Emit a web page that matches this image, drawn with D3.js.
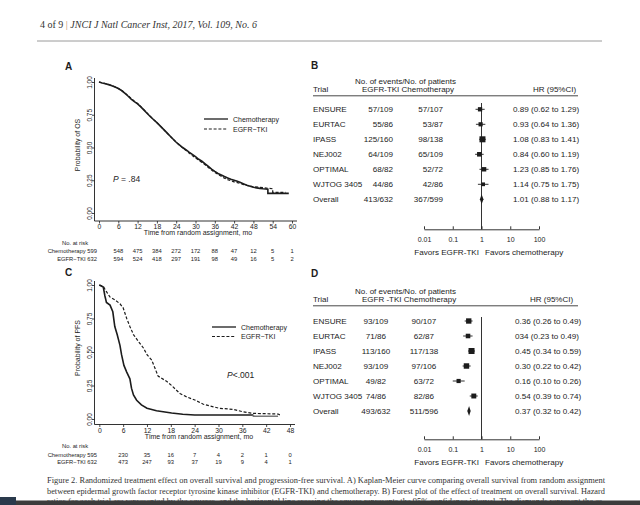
<!DOCTYPE html>
<html><head><meta charset="utf-8">
<script src="https://cdn.jsdelivr.net/npm/d3@7"></script>
<style>body{margin:0;background:#fff}svg{display:block}</style>
</head><body>
<svg id="c" width="640" height="505"></svg>
<script>
// ---------------- DATA ----------------
// Panel A: overall survival (time in months, survival probability)
const osChemo = [[0,1],[1,.993],[2,.987],[3,.98],[4,.972],[5,.962],[6,.95],[7,.935],[8,.915],[9,.893],[10,.87],[11,.85],[12,.833],[13,.81],[14,.785],[15,.76],[16,.735],[17,.712],[18,.69],[19,.665],[20,.64],[21,.615],[22,.59],[23,.565],[24,.54],[25,.52],[26,.5],[27,.483],[28,.465],[29,.448],[30,.43],[31,.41],[32,.395],[33,.375],[34,.355],[35,.335],[36,.318],[37,.302],[38,.29],[39,.278],[40,.268],[41,.258],[42,.25],[43,.242],[44,.232],[45,.222],[46,.212],[47,.205],[48,.197],[49,.192],[50,.188],[51,.185],[52.5,.182],[52.5,.15],[59,.15]];
const osEgfr = [[0,1],[1,.994],[2,.988],[3,.981],[4,.973],[5,.963],[6,.951],[7,.937],[8,.918],[9,.897],[10,.874],[11,.853],[12,.836],[13,.812],[14,.787],[15,.762],[16,.737],[17,.713],[18,.69],[19,.665],[20,.64],[21,.614],[22,.589],[23,.564],[24,.54],[25,.518],[26,.498],[27,.478],[28,.458],[29,.438],[30,.42],[31,.403],[32,.386],[33,.368],[34,.348],[35,.328],[36,.31],[37,.295],[38,.28],[39,.266],[40,.255],[41,.246],[42,.238],[43,.232],[44,.225],[45,.217],[46,.21],[47,.205],[48,.2],[50,.196],[52,.19],[54,.185],[54,.158],[58,.158]];
const osTicks = [0,6,12,18,24,30,36,42,48,54,60];
const osRiskChemo = [599,548,475,384,272,172,88,47,12,5,1];
const osRiskEgfr = [632,594,524,418,297,191,98,49,16,5,2];

// Panel C: progression-free survival
const pfsChemo = [[0,1],[1,.985],[1.4,.92],[1.8,.87],[2.7,.85],[3.4,.8],[3.9,.69],[4.5,.63],[5.2,.55],[5.6,.48],[6.2,.4],[6.9,.35],[7.7,.3],[8.1,.23],[8.6,.18],[9.4,.14],[10.6,.105],[12,.08],[14.4,.062],[18.2,.045],[21,.035],[24,.03],[38.8,.03]];
const pfsChemoTail = [[38.8,.03],[38.8,.02],[45,.02]];
const pfsEgfr = [[0,1],[1,.99],[1.8,.95],[2.7,.91],[3.9,.89],[5.2,.86],[6,.83],[6.9,.75],[7.7,.69],[8.6,.63],[9.8,.58],[11.1,.53],[12,.48],[13.2,.44],[14,.38],[14.8,.32],[17,.28],[18.2,.25],[20.3,.19],[22,.165],[24.2,.14],[26.2,.11],[30.2,.08],[33.7,.072],[36,.055],[38.8,.042],[45,.037],[45.5,.03]];
const pfsTicks = [0,6,12,18,24,30,36,42,48];
const pfsRiskChemo = [595,230,35,16,7,4,2,1,0];
const pfsRiskEgfr = [632,473,247,93,37,19,9,4,1];

const survTicks = [0,.25,.5,.75,1];

// Panels B and D: forest plots
const trials = ["ENSURE","EURTAC","IPASS","NEJ002","OPTIMAL","WJTOG 3405","Overall"];
const osEvEgfr = ["57/109","55/86","125/160","64/109","68/82","44/86","413/632"];
const osEvChemo = ["57/107","53/87","98/138","65/109","52/72","42/86","367/599"];
const osHR = [0.89,0.93,1.08,0.84,1.23,1.14,1.01];
const osLo = [0.62,0.64,0.83,0.60,0.85,0.75,0.88];
const osHi = [1.29,1.36,1.41,1.19,1.76,1.75,1.17];
const osHRText = ["0.89 (0.62 to 1.29)","0.93 (0.64 to 1.36)","1.08 (0.83 to 1.41)","0.84 (0.60 to 1.19)","1.23 (0.85 to 1.76)","1.14 (0.75 to 1.75)","1.01 (0.88 to 1.17)"];
const osEvents = [114,108,223,129,120,86];

const pfsEvEgfr = ["93/109","71/86","113/160","93/109","49/82","74/86","493/632"];
const pfsEvChemo = ["90/107","62/87","117/138","97/106","63/72","82/86","511/596"];
const pfsHR = [0.36,0.34,0.45,0.30,0.16,0.54,0.37];
const pfsLo = [0.26,0.23,0.34,0.22,0.10,0.39,0.32];
const pfsHi = [0.49,0.49,0.59,0.42,0.26,0.74,0.42];
const pfsHRText = ["0.36 (0.26 to 0.49)","034 (0.23 to 0.49)","0.45 (0.34 to 0.59)","0.30 (0.22 to 0.42)","0.16 (0.10 to 0.26)","0.54 (0.39 to 0.74)","0.37 (0.32 to 0.42)"];
const pfsEvents = [183,133,230,190,112,156];

const hrTicks = [0.01,0.1,1,10,100];

// ---------------- DRAWING ----------------
const svg = d3.select("#c");
const sans = '"Liberation Sans", Arial, Helvetica, sans-serif';
const serif = '"Liberation Serif", "DejaVu Serif", "Times New Roman", serif';
const ink = "#1c1c1c";

// header
const hdr = svg.append("text").attr("x",40).attr("y",28).attr("font-family",serif).attr("font-size",10).attr("fill","#333");
hdr.append("tspan").text("4 of 9");
hdr.append("tspan").attr("fill","#c08a5a").text("  |  ");
hdr.append("tspan").attr("font-style","italic").text("JNCI J Natl Cancer Inst, 2017, Vol. 109, No. 6");
svg.append("line").attr("x1",37).attr("x2",602).attr("y1",41).attr("y2",41).attr("stroke","#9a9a9a").attr("stroke-width",1);

function kmPanel(c){
  const g = svg.append("g").attr("font-family",sans).attr("fill",ink);
  const x = d3.scaleLinear().domain([0,c.tmax]).range([c.x0,c.x1]);
  const y = d3.scaleLinear().domain([0,1]).range([c.y0,c.y1]);
  g.append("text").attr("x",65).attr("y",c.letterY).attr("font-size",10).attr("font-weight","bold").text(c.letter);
  g.append("line").attr("x1",c.yAxisX).attr("x2",c.yAxisX).attr("y1",y(1)-4).attr("y2",c.axisY).attr("stroke",ink).attr("stroke-width",0.9);
  g.append("line").attr("x1",c.yAxisX).attr("x2",x(c.tmax)+5).attr("y1",c.axisY).attr("y2",c.axisY).attr("stroke",ink).attr("stroke-width",0.9);
  const xa = g.append("g").attr("transform",`translate(0,${c.axisY})`)
    .call(d3.axisBottom(x).tickValues(c.ticks).tickSize(2.5).tickPadding(1).tickSizeOuter(0));
  xa.select(".domain").remove();
  xa.selectAll("line").attr("stroke",ink).attr("stroke-width",0.8);
  xa.selectAll("text").attr("font-size",6.8).attr("font-family",sans).attr("fill",ink);
  const ya = g.append("g").attr("transform",`translate(${c.yAxisX},0)`)
    .call(d3.axisLeft(y).tickValues(survTicks).tickFormat(d3.format(".2f")).tickSize(2.5));
  ya.select(".domain").remove();
  ya.selectAll("line").attr("stroke",ink).attr("stroke-width",0.8);
  ya.selectAll("text").attr("font-size",6.5).attr("font-family",sans).attr("fill",ink)
    .attr("x",0).attr("y",-3).attr("dy",0).attr("text-anchor","middle").attr("transform","rotate(-90)");
  g.append("text").attr("x",c.titleX).attr("y",c.axisY+14).attr("font-size",7).attr("text-anchor","middle").text("Time from random assignment, mo");
  g.append("text").attr("transform",`translate(79.5,${c.ytitleY}) rotate(-90)`).attr("font-size",7).attr("text-anchor","middle").text(c.ytitle);
  const line = d3.line().x(d=>x(d[0])).y(d=>y(d[1]));
  g.append("path").datum(c.egfr).attr("d",line).attr("fill","none").attr("stroke",ink).attr("stroke-width",1.2).attr("stroke-dasharray","3,1.8");
  g.append("path").datum(c.chemo).attr("d",line).attr("fill","none").attr("stroke",ink).attr("stroke-width",1.6);
  if (c.tail) g.append("path").datum(c.tail).attr("d",line).attr("fill","none").attr("stroke","#777").attr("stroke-width",1.6);
  const L = c.legend;
  g.append("line").attr("x1",L.x).attr("x2",L.x+24).attr("y1",L.y).attr("y2",L.y).attr("stroke",ink).attr("stroke-width",1.3);
  g.append("line").attr("x1",L.x).attr("x2",L.x+24).attr("y1",L.y+L.dy).attr("y2",L.y+L.dy).attr("stroke",ink).attr("stroke-width",1.1).attr("stroke-dasharray","3,1.8");
  g.append("text").attr("x",L.x+29).attr("y",L.y+2.5).attr("font-size",7).text("Chemotherapy");
  g.append("text").attr("x",L.x+29).attr("y",L.y+L.dy+2.5).attr("font-size",7).text("EGFR\u2212TKI");
  const p = g.append("text").attr("x",c.p.x).attr("y",c.p.y).attr("font-size",8.5);
  p.append("tspan").attr("font-style","italic").text("P");
  p.append("tspan").text(c.p.text);
  const r0 = c.axisY + 23.5;
  g.append("text").attr("x",62).attr("y",r0).attr("font-size",5.8).text("No. at risk");
  g.append("text").attr("x",97).attr("y",r0+8.5).attr("font-size",5.8).attr("text-anchor","end").text("Chemotherapy "+c.riskChemo[0]);
  g.append("text").attr("x",97).attr("y",r0+16).attr("font-size",5.8).attr("text-anchor","end").text("EGFR\u2212TKI "+c.riskEgfr[0]);
  g.selectAll(null).data(c.riskChemo.slice(1)).enter().append("text")
    .attr("x",(d,i)=>x(c.ticks[i+1])).attr("y",r0+8.5).attr("font-size",5.8).attr("text-anchor","middle").text(d=>d);
  g.selectAll(null).data(c.riskEgfr.slice(1)).enter().append("text")
    .attr("x",(d,i)=>x(c.ticks[i+1])).attr("y",r0+16).attr("font-size",5.8).attr("text-anchor","middle").text(d=>d);
}

kmPanel({letter:"A",letterY:70,tmax:60,x0:99,x1:292,y0:213,y1:82,yAxisX:94.5,axisY:221,ticks:osTicks,
  titleX:198,ytitleY:145,ytitle:"Probability of OS",chemo:osChemo,egfr:osEgfr,
  legend:{x:204,y:119,dy:10},p:{x:113,y:182,text:" = .84"},riskChemo:osRiskChemo,riskEgfr:osRiskEgfr});
kmPanel({letter:"C",letterY:276,tmax:48,x0:99.3,x1:290,y0:419,y1:285,yAxisX:94.5,axisY:424.5,ticks:pfsTicks,
  titleX:199,ytitleY:348,ytitle:"Probability of PFS",chemo:pfsChemo,tail:pfsChemoTail,egfr:pfsEgfr,
  legend:{x:212,y:327,dy:9.5},p:{x:227,y:378,text:"<.001"},riskChemo:pfsRiskChemo,riskEgfr:pfsRiskEgfr});

function forest(c){
  const g = svg.append("g").attr("font-family",sans).attr("fill",ink);
  const x = d3.scaleLog().domain([0.01,100]).range([424,539]);
  const yr = d3.scalePoint().domain(trials).range([c.row0,c.row0+90]);
  const sz = d3.scaleSqrt().domain([0,d3.max(c.events)]).range([0,6]);
  const fs = 8.1;
  g.append("text").attr("x",311).attr("y",c.letterY).attr("font-size",10).attr("font-weight","bold").text(c.letter);
  g.append("text").attr("x",355).attr("y",c.head0).attr("font-size",8).text("No. of events/No. of patients");
  g.append("text").attr("x",313).attr("y",c.head0+8).attr("font-size",8).text("Trial");
  g.append("text").attr("x",362).attr("y",c.head0+8).attr("font-size",8).text(c.colHead);
  g.append("text").attr("x",c.hrHeadX).attr("y",c.head0+8).attr("font-size",8).text("HR (95%CI)");
  g.append("line").attr("x1",313).attr("x2",578).attr("y1",c.head0+12.3).attr("y2",c.head0+12.3).attr("stroke","#333").attr("stroke-width",0.9);
  g.selectAll(null).data(trials).enter().append("text").attr("x",313).attr("y",d=>yr(d)+3).attr("font-size",fs).text(d=>d);
  g.selectAll(null).data(c.evE).enter().append("text").attr("x",c.colE.x).attr("text-anchor",c.colE.a)
    .attr("y",(d,i)=>yr(trials[i])+3).attr("font-size",fs).text(d=>d);
  g.selectAll(null).data(c.evC).enter().append("text").attr("x",c.colC.x).attr("text-anchor",c.colC.a)
    .attr("y",(d,i)=>yr(trials[i])+3).attr("font-size",fs).text(d=>d);
  g.selectAll(null).data(c.hrText).enter().append("text").attr("x",c.hrX)
    .attr("y",(d,i)=>yr(trials[i])+3).attr("font-size",fs).text(d=>d);
  g.append("line").attr("x1",x(1)).attr("x2",x(1)).attr("y1",c.vTop).attr("y2",c.axisY).attr("stroke",ink).attr("stroke-width",0.9);
  const idx = d3.range(trials.length-1);
  g.selectAll(null).data(idx).enter().append("line")
    .attr("x1",i=>x(c.lo[i])).attr("x2",i=>x(c.hi[i])).attr("y1",i=>yr(trials[i])).attr("y2",i=>yr(trials[i]))
    .attr("stroke",ink).attr("stroke-width",0.9);
  g.selectAll(null).data(idx).enter().append("rect")
    .attr("x",i=>x(c.hr[i])-sz(c.events[i])/2).attr("y",i=>yr(trials[i])-sz(c.events[i])/2)
    .attr("width",i=>sz(c.events[i])).attr("height",i=>sz(c.events[i])).attr("fill",ink);
  const k = trials.length-1, yo = yr(trials[k]);
  g.append("path").attr("d",`M${x(c.lo[k])},${yo}L${x(c.hr[k])},${yo-5}L${x(c.hi[k])},${yo}L${x(c.hr[k])},${yo+5}Z`).attr("fill",ink);
  const ax = g.append("g").attr("transform",`translate(0,${c.axisY})`)
    .call(d3.axisBottom(x).tickValues(hrTicks).tickFormat(d=>String(d)).tickSize(-3).tickSizeOuter(0).tickPadding(8));
  ax.select(".domain").attr("stroke",ink).attr("stroke-width",0.9);
  ax.selectAll("line").attr("stroke",ink).attr("stroke-width",0.9);
  ax.selectAll("text").attr("font-size",7).attr("font-family",sans).attr("fill",ink);
  g.append("text").attr("x",479).attr("y",c.axisY+25.5).attr("font-size",fs).attr("text-anchor","end").text("Favors EGFR-TKI");
  g.append("text").attr("x",485).attr("y",c.axisY+25.5).attr("font-size",fs).text("Favors chemotherapy");
}

forest({letter:"B",letterY:69,head0:83.5,colHead:"EGFR-TKI Chemotherapy",hrHeadX:533,row0:109.3,
  evE:osEvEgfr,evC:osEvChemo,colE:{x:393,a:"end"},colC:{x:443,a:"end"},hrText:osHRText,hrX:513,
  hr:osHR,lo:osLo,hi:osHi,events:osEvents,vTop:103,axisY:229.3});
forest({letter:"D",letterY:277,head0:293.5,colHead:"EGFR -TKI Chemotherapy",hrHeadX:530,row0:321,
  evE:pfsEvEgfr,evC:pfsEvChemo,colE:{x:376,a:"middle"},colC:{x:424,a:"middle"},hrText:pfsHRText,hrX:515,
  hr:pfsHR,lo:pfsLo,hi:pfsHi,events:pfsEvents,vTop:317,axisY:439.3});

// caption
const cap = [
  "Figure 2. Randomized treatment effect on overall survival and progression-free survival. A) Kaplan-Meier curve comparing overall survival from random assignment",
  "between epidermal growth factor receptor tyrosine kinase inhibitor (EGFR-TKI) and chemotherapy. B) Forest plot of the effect of treatment on overall survival. Hazard",
  "ratios for each trial are represented by the squares, and the horizontal line crossing the square represents the 95% confidence interval. The diamonds represent the es-"
];
svg.selectAll(null).data(cap).enter().append("text")
  .attr("x",47).attr("y",(d,i)=>483+i*10.6).attr("font-family",serif).attr("font-size",7.6).attr("fill","#333")
  .attr("textLength",558).attr("lengthAdjust","spacingAndGlyphs").text(d=>d);
// bottom bar
svg.append("rect").attr("x",0).attr("y",500.5).attr("width",640).attr("height",4.5).attr("fill","#3c3c3c");
svg.append("rect").attr("x",0).attr("y",497).attr("width",16).attr("height",8).attr("fill","#2a3a4c");
</script>
</body></html>
